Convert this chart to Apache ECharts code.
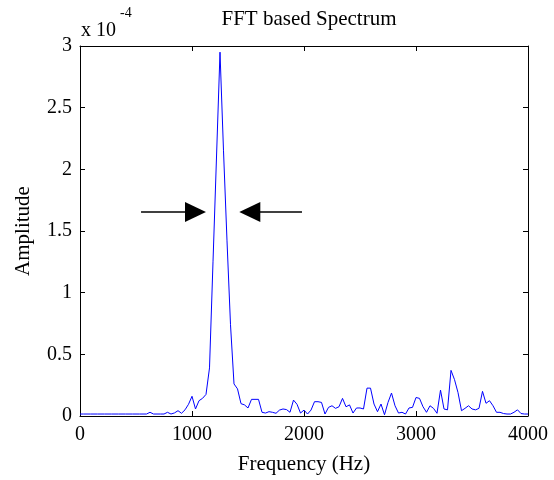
<!DOCTYPE html>
<html>
<head>
<meta charset="utf-8">
<script src="https://cdn.jsdelivr.net/npm/echarts@6/dist/echarts.min.js"></script>
<style>html,body{margin:0;padding:0;background:#fff;}#c{width:554px;height:480px;}</style>
</head>
<body>
<div id="c"></div>
<script>
// FFT bin width (Hz) and amplitudes in units of 1e-5, bins 0..128
var binWidthHz = 31.25;
var amplitudeE5 = [
  0.16,0.16,0.16,0.16,0.16,0.16,0.16,0.16,0.16,0.16,
  0.16,0.16,0.16,0.16,0.16,0.16,0.16,0.16,0.16,0.16,
  0.3,0.16,0.16,0.16,0.16,0.3,0.16,0.25,0.43,0.22,
  0.5,0.95,1.6,0.57,1.24,1.43,1.75,3.9,12.5,21,
  29.5,21.5,14.2,7.4,2.6,2.2,1.0,0.9,0.65,1.35,
  1.35,1.35,0.3,0.24,0.35,0.3,0.22,0.48,0.57,0.52,
  0.3,1.29,0.95,0.24,0.48,0.16,0.48,1.16,1.16,1.1,
  0.16,0.7,0.83,0.62,0.75,1.43,0.75,0.9,0.24,0.65,
  0.65,0.57,2.26,2.26,0.97,0.35,0.97,0.1,1.1,1.86,
  0.83,0.24,0.3,0.16,0.65,0.7,1.5,1.43,0.75,0.3,
  0.83,0.62,0.22,2.1,0.57,0.5,3.7,2.95,1.9,0.43,
  0.62,0.83,0.57,0.5,0.62,2.0,1.03,1.24,0.83,0.3,
  0.3,0.2,0.16,0.16,0.3,0.5,0.2,0.16,0.16
];
var xTickLabels = ['0', '1000', '2000', '3000', '4000'];
var yTickLabels = ['0', '0.5', '1', '1.5', '2', '2.5', '3'];
// arrow annotations (frequency Hz, amplitude in 1e-4)
var leftArrow = [[545, 1.655], [1031, 1.655]];
var rightArrow = [[1982, 1.655], [1516, 1.655]];

var seriesData = amplitudeE5.map(function (v, k) { return [k * binWidthHz, v / 10]; });

var font = 'Liberation Serif';
var chart = echarts.init(document.getElementById('c'), null, {renderer: 'canvas'});
var axisCommon = {
  min: 0,
  axisLine: {show: true, onZero: false, lineStyle: {color: '#000', width: 1}},
  axisTick: {show: true, inside: true, length: 5, lineStyle: {color: '#000'}},
  splitLine: {show: false}
};
chart.setOption({
  animation: false,
  backgroundColor: '#fff',
  title: {
    text: 'FFT based Spectrum',
    left: 304, top: 4, textAlign: 'center',
    textStyle: {fontFamily: font, fontSize: 21, fontWeight: 'normal', color: '#000'}
  },
  grid: {left: 80, right: 26, top: 46, bottom: 63},
  xAxis: [
    Object.assign({}, axisCommon, {
      type: 'value', max: 4000, interval: 1000, position: 'bottom',
      name: 'Frequency (Hz)', nameLocation: 'middle', nameGap: 38,
      nameTextStyle: {fontFamily: font, fontSize: 21, color: '#000'},
      axisLabel: {margin: 9, fontFamily: font, fontSize: 20, color: '#000',
        formatter: function (v) { return xTickLabels[Math.round(v / 1000)]; }}
    }),
    Object.assign({}, axisCommon, {
      type: 'value', max: 4000, interval: 1000, position: 'top',
      axisLabel: {show: false}
    })
  ],
  yAxis: [
    Object.assign({}, axisCommon, {
      type: 'value', max: 3, interval: 0.5, position: 'left',
      name: 'Amplitude', nameLocation: 'middle', nameGap: 46,
      nameTextStyle: {fontFamily: font, fontSize: 21, color: '#000'},
      axisLabel: {margin: 8, fontFamily: font, fontSize: 20, color: '#000',
        formatter: function (v) { return yTickLabels[Math.round(v / 0.5)]; }}
    }),
    Object.assign({}, axisCommon, {
      type: 'value', max: 3, interval: 0.5, position: 'right',
      axisLabel: {show: false}
    })
  ],
  graphic: [
    {type: 'text', left: 81, top: 21, style: {text: 'x 10', font: '20px "Liberation Serif"', fill: '#000'}},
    {type: 'text', left: 120, top: 6, style: {text: '-4', font: '14px "Liberation Serif"', fill: '#000'}}
  ],
  series: [{
    type: 'line',
    data: seriesData,
    showSymbol: false,
    lineStyle: {color: '#0000ff', width: 1},
    itemStyle: {color: '#0000ff'},
    markLine: {
      silent: true,
      symbol: ['none', 'triangle'],
      symbolSize: [20, 21],
      label: {show: false},
      lineStyle: {color: '#000', width: 1.5, type: 'solid'},
      itemStyle: {color: '#000'},
      emphasis: {disabled: true},
      data: [
        [{coord: leftArrow[0]}, {coord: leftArrow[1]}],
        [{coord: rightArrow[0]}, {coord: rightArrow[1]}]
      ]
    }
  }]
});
</script>
</body>
</html>
